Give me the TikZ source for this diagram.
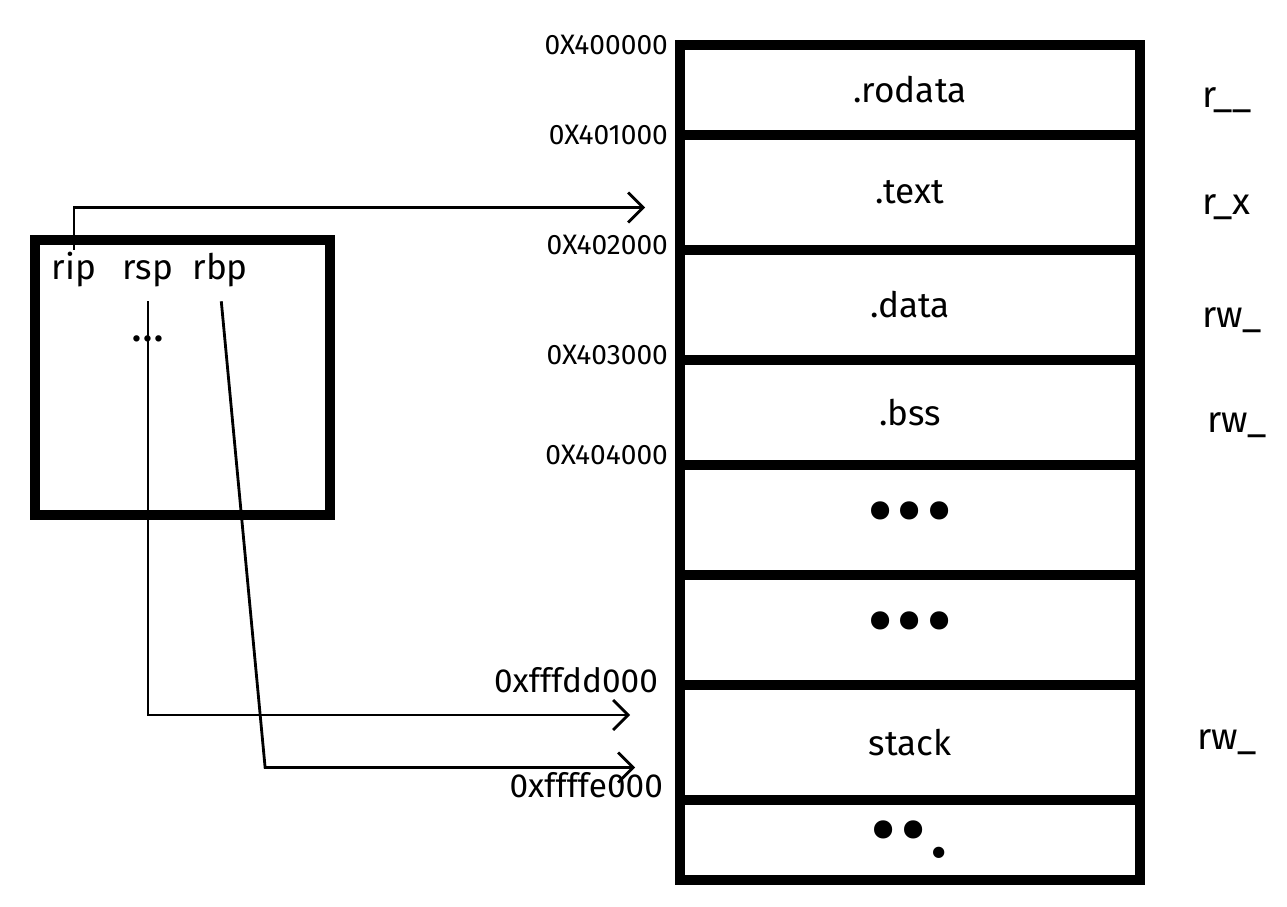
\documentclass[tikz,border=0pt]{standalone}
\usepackage{fontspec}
\setmainfont{Fira Sans}
\usetikzlibrary{positioning, arrows.meta}

\begin{document}
\begin{tikzpicture}[
  seg/.style={draw, line width=6pt, outer sep=0pt, inner sep=0pt, minimum width=9.2cm, font=\fontsize{20}{24}\selectfont},
  dots/.style={font=\fontsize{46}{46}\selectfont},
  addr/.style={inner sep=1pt, font=\fontsize{16}{18}\selectfont},
  perm/.style={inner sep=1pt, font=\fontsize{21}{24}\selectfont},
  reg/.style={inner sep=1pt, font=\fontsize{20}{22}\selectfont},
  ptr/.style={line width=1.6pt, -{Straight Barb[length=3mm,width=6mm]}},
]
\useasboundingbox (0,0) rectangle (25.74,-18.14);

% memory map
\node[seg, minimum height=1.8cm] (rodata) at (18.2,-1.8) {.rodata};
\node[seg, minimum height=2.3cm, below=0pt of rodata] (text) {.text};
\node[seg, minimum height=2.2cm, below=0pt of text] (data) {.data};
\node[seg, minimum height=2.1cm, below=0pt of data] (bss) {.bss};
\node[seg, dots, minimum height=2.2cm, below=0pt of bss] (gap1) {\textbullet\hspace{2pt}\textbullet\hspace{2pt}\textbullet};
\node[seg, dots, minimum height=2.2cm, below=0pt of gap1] (gap2) {\textbullet\hspace{2pt}\textbullet\hspace{2pt}\textbullet};
\node[seg, minimum height=2.3cm, below=0pt of gap2] (stack) {stack};
\node[seg, dots, minimum height=1.6cm, below=0pt of stack] (gap3) {\textbullet\hspace{2pt}\textbullet\hspace{2pt}.};

% addresses
\node[addr, left=0.2cm of rodata.north west] (a400) {0X400000};
\node[addr, left=0.2cm of text.north west] (a401) {0X401000};
\node[addr, left=0.2cm of data.north west, yshift=0.1cm] (a402) {0X402000};
\node[addr, left=0.2cm of bss.north west, yshift=0.1cm] (a403) {0X403000};
\node[addr, left=0.2cm of gap1.north west, yshift=0.2cm] (a404) {0X404000};
\node[addr, font=\fontsize{19}{22}\selectfont, left=0.4cm of stack.north west, yshift=0.1cm] (sttop) {0xfffdd000};
\node[addr, font=\fontsize{19}{22}\selectfont, left=0.3cm of stack.south west, yshift=0.3cm] (stbot) {0xffffe000};

% permissions
\node[perm, right=1.2cm of rodata.east, yshift=-0.2cm] (prodata) {r\_\_};
\node[perm, right=1.2cm of text.east, yshift=-0.3cm] (ptext) {r\_x};
\node[perm, right=1.2cm of data.east, yshift=-0.3cm] (pdata) {rw\_};
\node[perm, right=1.3cm of bss.east, yshift=-0.25cm] (pbss) {rw\_};
\node[perm, right=1.1cm of stack.east] (pstack) {rw\_};

% registers
\node[draw, line width=6pt, minimum width=5.9cm, minimum height=5.5cm] (cpu) at (3.65,-7.55) {};
\node[reg, below right=0.3cm and 0.4cm of cpu.north west] (rip) {rip};
\node[reg, base right=0.45cm of rip] (rsp) {rsp};
\node[reg, base right=0.3cm of rsp] (rbp) {rbp};
\node[reg, font=\fontsize{26}{26}\selectfont, below=0.9cm of rsp] (etc) {...};

\coordinate (textin) at ([yshift=-0.3cm]text.west);
\coordinate (spin) at ([yshift=0.55cm]stack.west);
\coordinate (bpin) at ([yshift=-0.5cm]stack.west);

\draw[ptr, shorten >=0.7cm] (rip.north) |- (textin);
\draw[ptr, shorten <=0.25cm, shorten >=1cm] (rsp.south) |- (spin);
\draw[ptr, shorten <=0.25cm, shorten >=0.9cm] (rbp.south) -- ([xshift=0.9cm]rbp.south |- bpin) -- (bpin);
\end{tikzpicture}
\end{document}
